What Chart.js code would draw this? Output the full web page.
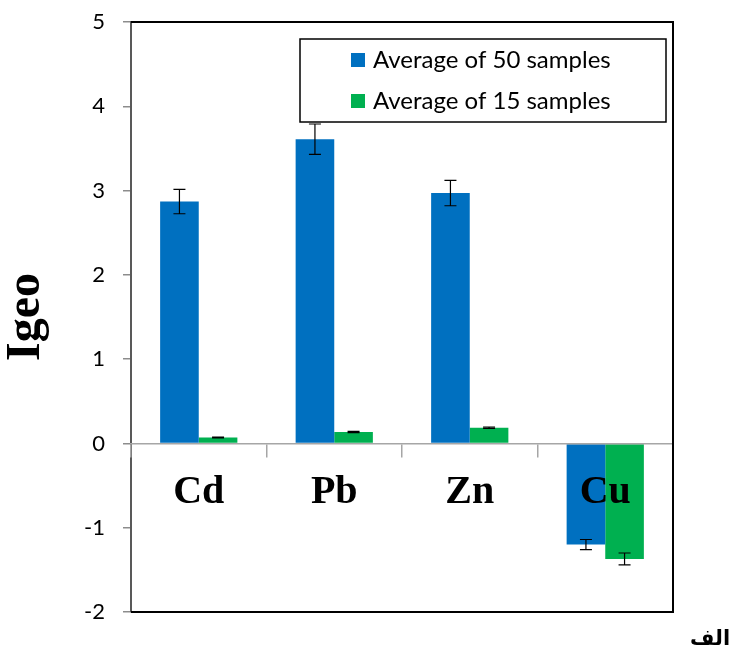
<!DOCTYPE html>
<html>
<head>
<meta charset="utf-8">
<script src="https://cdn.jsdelivr.net/npm/chart.js@4"></script>
<style>
  html, body { margin: 0; padding: 0; background: #fff; }
  #wrap { position: relative; width: 732px; height: 647px; }
  #alef { position: absolute; left: 690px; top: 626px; font: bold 21px "DejaVu Sans"; color: #000; }
</style>
</head>
<body>
<div id="wrap">
  <canvas id="myChart" width="732" height="647"></canvas>
  <div id="alef">الف</div>
</div>
<script>
'use strict';
// данные графика
const metals = ['Cd', 'Pb', 'Zn', 'Cu'];
const seriesNames = ['Average of 50 samples', 'Average of 15 samples'];
// средние значения Igeo
const avg50 = [2.87, 3.61, 2.97, -1.20];
const avg15 = [0.07, 0.135, 0.185, -1.37];
// погрешности
const err50 = [0.145, 0.18, 0.15, 0.06];
const err15 = [0.005, 0.008, 0.008, 0.07];
const yTicks = [-2, -1, 0, 1, 2, 3, 4, 5];

const colors = ['#0070C0', '#00B050'];

// рисуем "усы" погрешностей
const errorBars = {
  id: 'errorBars',
  afterDatasetsDraw(chart) {
    const ctx = chart.ctx;
    const yScale = chart.scales.y;
    const errs = [err50, err15];
    ctx.save();
    ctx.strokeStyle = '#000';
    ctx.lineWidth = 1.2;
    chart.data.datasets.forEach((ds, i) => {
      chart.getDatasetMeta(i).data.forEach((bar, j) => {
        const v = ds.data[j];
        const e = errs[i][j];
        const y1 = yScale.getPixelForValue(v + e);
        const y2 = yScale.getPixelForValue(v - e);
        const x = bar.x;
        ctx.beginPath();
        ctx.moveTo(x, y1); ctx.lineTo(x, y2);
        ctx.moveTo(x - 6, y1); ctx.lineTo(x + 6, y1);
        ctx.moveTo(x - 6, y2); ctx.lineTo(x + 6, y2);
        ctx.stroke();
      });
    });
    ctx.restore();
  }
};

// рамка и легенда
const frameAndLegend = {
  id: 'frameAndLegend',
  afterDraw(chart) {
    const ctx = chart.ctx;
    const a = chart.chartArea;
    ctx.save();
    ctx.strokeStyle = '#000';
    ctx.lineWidth = 2;
    ctx.beginPath();
    ctx.moveTo(a.left, a.top);
    ctx.lineTo(a.right, a.top);
    ctx.lineTo(a.right, a.bottom);
    ctx.lineTo(a.left, a.bottom);
    ctx.stroke();

    // легенда
    const lx = a.left + 169, ly = a.top + 17, lw = 366, lh = 83;
    ctx.fillStyle = '#fff';
    ctx.fillRect(lx, ly, lw, lh);
    ctx.lineWidth = 1.5;
    ctx.strokeRect(lx, ly, lw, lh);
    ctx.font = '24px Lato';
    ctx.textBaseline = 'middle';
    chart.data.datasets.forEach((ds, i) => {
      const cy = ly + 21 + i * 41;
      ctx.fillStyle = ds.backgroundColor;
      ctx.fillRect(lx + 51, cy - 7, 14, 14);
      ctx.fillStyle = '#000';
      ctx.fillText(ds.label, lx + 73, cy);
    });
    ctx.restore();
  }
};

const ctx = document.getElementById('myChart').getContext('2d');
const chart = new Chart(ctx, {
  type: 'bar',
  data: {
    labels: metals,
    datasets: [
      { label: seriesNames[0], data: avg50, backgroundColor: colors[0] },
      { label: seriesNames[1], data: avg15, backgroundColor: colors[1] }
    ]
  },
  options: {
    responsive: false,
    animation: false,
    layout: { padding: { top: 22, right: 59, bottom: 35, left: 0 } },
    plugins: {
      legend: { display: false },
      tooltip: { enabled: false }
    },
    datasets: {
      bar: { barPercentage: 1, categoryPercentage: 0.57 }
    },
    scales: {
      x: {
        position: { y: 0 },
        afterFit(scale) {
          scale.paddingTop = 0; scale.paddingBottom = 0;
          scale.paddingLeft = 0; scale.paddingRight = 0;
        },
        grid: {
          offset: true,
          drawOnChartArea: false,
          drawTicks: true,
          tickLength: 13,
          color: '#a6a6a6',
          lineWidth: 1.5,
          z: 1
        },
        border: { display: true, color: '#a6a6a6', width: 1.5, z: 1 },
        ticks: {
          color: '#000',
          padding: 12,
          z: 1,
          font: { family: 'Liberation Serif', weight: 'bold', size: 40 }
        }
      },
      y: {
        min: -2,
        max: 5,
        afterFit(scale) {
          scale.width = 131;
          scale.paddingTop = 0; scale.paddingBottom = 0;
        },
        afterBuildTicks(scale) { scale.ticks = yTicks.map(v => ({ value: v })); },
        grid: {
          drawOnChartArea: false,
          drawTicks: true,
          tickLength: 8,
          color: '#8c8c8c',
          lineWidth: 1.5
        },
        border: { display: true, color: '#595959', width: 2 },
        ticks: {
          color: '#000',
          padding: 18,
          font: { family: 'Lato', size: 22 }
        },
        title: {
          display: true,
          text: 'Igeo',
          color: '#000',
          padding: 0,
          font: { family: 'Liberation Serif', weight: 'bold', size: 48, lineHeight: 1.1 }
        }
      }
    }
  },
  plugins: [errorBars, frameAndLegend]
});
</script>
</body>
</html>
